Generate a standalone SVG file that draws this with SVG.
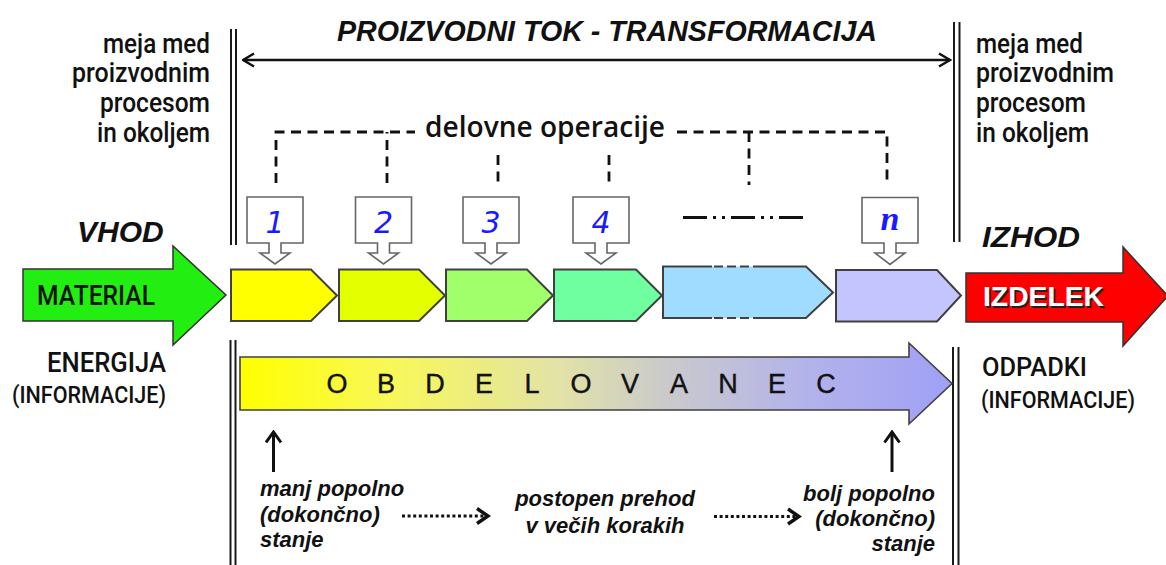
<svg xmlns="http://www.w3.org/2000/svg" width="1166" height="565" viewBox="0 0 1166 565">
  <defs>
    <style>
      .side { font-family: Roboto, "Liberation Sans", sans-serif; font-weight: 500; font-size: 27px; fill: #111; }
      .head { font-family: "Liberation Sans", Arial, sans-serif; font-weight: bold; font-style: italic; fill: #111; }
      .io { font-family: Roboto, "Liberation Sans", sans-serif; font-weight: 500; fill: #111; }
      .note { font-family: "Liberation Sans", Arial, sans-serif; font-weight: bold; font-style: italic; font-size: 22px; fill: #111; }
      .num { font-family: "DejaVu Sans", sans-serif; font-style: italic; font-size: 30px; fill: #1a1aff; text-anchor: middle; }
      .wall { stroke: #1a1a1a; stroke-width: 2; fill: none; }
      .step { stroke: #404040; stroke-width: 2; stroke-linejoin: miter; }
      .callout { fill: #fff; stroke: #666; stroke-width: 1.6; }
      .bracket { fill: none; stroke: #111; stroke-width: 2.8; stroke-dasharray: 10 6.5; }
      .dots { fill: none; stroke: #111; stroke-width: 3; stroke-dasharray: 3 2.6; }
    </style>
    <marker id="chev" viewBox="0 0 14 16" refX="12.5" refY="8" markerWidth="14" markerHeight="16" markerUnits="userSpaceOnUse" orient="auto-start-reverse">
      <path d="M1.5,1.5 L12.5,8 L1.5,14.5" fill="none" stroke="#111" stroke-width="2.5"/>
    </marker>
    <marker id="chevSmall" viewBox="0 0 14 18" refX="12" refY="9" markerWidth="14" markerHeight="18" markerUnits="userSpaceOnUse" orient="auto">
      <path d="M1.5,1.5 L12,9 L1.5,16.5" fill="none" stroke="#111" stroke-width="3"/>
    </marker>
    <linearGradient id="workpiece" x1="240" y1="0" x2="952" y2="0" gradientUnits="userSpaceOnUse">
      <stop offset="0" stop-color="#ffff00"/>
      <stop offset="0.22" stop-color="#f7f75c"/>
      <stop offset="0.45" stop-color="#e2e2a8"/>
      <stop offset="0.6" stop-color="#cacacc"/>
      <stop offset="0.8" stop-color="#b2b2ec"/>
      <stop offset="1" stop-color="#a0a0f6"/>
    </linearGradient>
  </defs>

  <rect width="1166" height="565" fill="#fff"/>

  <!-- system boundary walls -->
  <g id="boundaries">
    <line class="wall" x1="231" y1="29" x2="231" y2="245"/>
    <line class="wall" x1="236" y1="29" x2="236" y2="245"/>
    <line class="wall" x1="230.5" y1="340" x2="230.5" y2="565"/>
    <line class="wall" x1="235.5" y1="340" x2="235.5" y2="565"/>
    <line class="wall" x1="954" y1="22" x2="954" y2="242"/>
    <line class="wall" x1="959.5" y1="22" x2="959.5" y2="242"/>
    <line class="wall" x1="953" y1="347" x2="953" y2="565"/>
    <line class="wall" x1="958.5" y1="347" x2="958.5" y2="565"/>
  </g>

  <!-- headings and boundary labels -->
  <g id="title">
    <text class="head" x="337" y="41" font-size="29" textLength="540" lengthAdjust="spacingAndGlyphs">PROIZVODNI TOK - TRANSFORMACIJA</text>
  </g>
  <g id="boundary-left">
    <text class="side" x="210" y="53" text-anchor="end" textLength="107" lengthAdjust="spacingAndGlyphs">meja med</text>
    <text class="side" x="210" y="82" text-anchor="end" textLength="138" lengthAdjust="spacingAndGlyphs">proizvodnim</text>
    <text class="side" x="210" y="112" text-anchor="end" textLength="110" lengthAdjust="spacingAndGlyphs">procesom</text>
    <text class="side" x="210" y="141.5" text-anchor="end" textLength="113" lengthAdjust="spacingAndGlyphs">in okoljem</text>
  </g>
  <g id="boundary-right">
    <text class="side" x="976" y="53" textLength="107" lengthAdjust="spacingAndGlyphs">meja med</text>
    <text class="side" x="976" y="82" textLength="138" lengthAdjust="spacingAndGlyphs">proizvodnim</text>
    <text class="side" x="976" y="112" textLength="110" lengthAdjust="spacingAndGlyphs">procesom</text>
    <text class="side" x="976" y="141.5" textLength="113" lengthAdjust="spacingAndGlyphs">in okoljem</text>
  </g>
  <g id="operations-label">
    <text x="425" y="137" font-family="'Open Sans', 'DejaVu Sans', sans-serif" font-weight="600" font-size="29" fill="#111" textLength="240" lengthAdjust="spacingAndGlyphs">delovne operacije</text>
  </g>

  <!-- connectors -->
  <g id="connectors">
    <!-- production flow span -->
    <line x1="243" y1="60" x2="950" y2="60" stroke="#111" stroke-width="2.5" marker-start="url(#chev)" marker-end="url(#chev)"/>
    <!-- operation bracket -->
    <path class="bracket" d="M276,183 V132 H415"/>
    <path class="bracket" d="M387,183 V132"/>
    <path class="bracket" d="M677,132 H887 V185"/>
    <path class="bracket" d="M749,132 V185"/>
    <path class="bracket" d="M498,155 V184"/>
    <path class="bracket" d="M609,155 V184"/>
    <!-- further operations -->
    <path d="M683,217.5 H808" fill="none" stroke="#111" stroke-width="3" stroke-dasharray="24 6 3 6 3 6"/>
    <!-- state markers -->
    <line x1="273.5" y1="472" x2="273.5" y2="432" stroke="#111" stroke-width="3" marker-end="url(#chevSmall)"/>
    <line x1="892" y1="472" x2="892" y2="432" stroke="#111" stroke-width="3" marker-end="url(#chevSmall)"/>
    <!-- gradual transition -->
    <line class="dots" x1="402" y1="516" x2="486" y2="516"/>
    <path d="M477,508.5 L488,516 L477,523.5" fill="none" stroke="#111" stroke-width="3.4"/>
    <line class="dots" x1="714" y1="516.5" x2="796" y2="516.5"/>
    <path d="M788,509 L799,516.5 L788,524" fill="none" stroke="#111" stroke-width="3.4"/>
  </g>

  <!-- input -->
  <g id="input">
    <text class="head" x="77" y="242" font-size="30">VHOD</text>
    <polygon points="23,269 173,269 173,246 226,295 173,345 173,321 23,321" fill="#22ee11" stroke="#333" stroke-width="1.5"/>
    <text class="io" x="37" y="305" font-size="27" textLength="118" lengthAdjust="spacingAndGlyphs">MATERIAL</text>
    <text class="io" x="166" y="371.5" font-size="27" text-anchor="end" textLength="119" lengthAdjust="spacingAndGlyphs">ENERGIJA</text>
    <text class="io" x="166" y="403" font-size="24.5" text-anchor="end" textLength="154" lengthAdjust="spacingAndGlyphs">(INFORMACIJE)</text>
  </g>

  <!-- operation steps -->
  <g id="step1">
    <polygon class="step" points="231,269.5 311,269.5 337,295.5 311,321 231,321" fill="#ffff00"/>
  </g>
  <g id="step2">
    <polygon class="step" points="339,269.5 419,269.5 445,295.5 419,321 339,321" fill="#e4ff00"/>
  </g>
  <g id="step3">
    <polygon class="step" points="446,269.5 527,269.5 553,295.5 527,321 446,321" fill="#a2ff6c"/>
  </g>
  <g id="step4">
    <polygon class="step" points="554,269.5 636,269.5 662,295.5 636,321 554,321" fill="#70ffa0"/>
  </g>
  <g id="step-more">
    <polygon points="663,266.5 806,266.5 833,292.5 806,318 663,318" fill="#a0dcff"/>
    <path class="step" fill="none" d="M712,266.5 H663 V318 H712 M758,318 H806 L833,292.5 L806,266.5 H758"/>
    <path fill="none" stroke="#404040" stroke-width="2" stroke-dasharray="9 4" d="M714,266.5 H758 M714,318 H758"/>
  </g>
  <g id="stepN">
    <polygon class="step" points="836,270 937,270 961,295.5 937,321.5 836,321.5" fill="#c4c4ff"/>
  </g>

  <!-- operation callouts -->
  <g id="op1" transform="translate(275,0)">
    <path class="callout" d="M-28,197 H28 V243 H6 V253 H15 L0,264 L-15,253 H-6 V243 H-28 Z"/>
    <text class="num" x="0" y="233">1</text>
  </g>
  <g id="op2" transform="translate(383.5,0)">
    <path class="callout" d="M-28,197 H28 V243 H6 V253 H15 L0,264 L-15,253 H-6 V243 H-28 Z"/>
    <text class="num" x="0" y="233">2</text>
  </g>
  <g id="op3" transform="translate(491,0)">
    <path class="callout" d="M-28,197 H28 V243 H6 V253 H15 L0,264 L-15,253 H-6 V243 H-28 Z"/>
    <text class="num" x="0" y="233">3</text>
  </g>
  <g id="op4" transform="translate(601,0)">
    <path class="callout" d="M-28,197 H28 V243 H6 V253 H15 L0,264 L-15,253 H-6 V243 H-28 Z"/>
    <text class="num" x="0" y="233">4</text>
  </g>
  <g id="opN" transform="translate(890,0)">
    <path class="callout" d="M-28,197.5 H28 V243 H6 V253 H15 L0,264.5 L-15,253 H-6 V243 H-28 Z"/>
    <text x="0" y="230" font-family="'Liberation Serif', 'Times New Roman', serif" font-weight="bold" font-style="italic" font-size="34" fill="#1a1aff" text-anchor="middle">n</text>
  </g>

  <!-- output -->
  <g id="output">
    <text class="head" x="982" y="247" font-size="30" textLength="98" lengthAdjust="spacingAndGlyphs">IZHOD</text>
    <polygon points="966,273 1123,273 1123,247 1168,296 1123,346 1123,322 966,322" fill="#ff0000" stroke="#333" stroke-width="1.5"/>
    <text x="984.5" y="307.5" font-family="'Liberation Sans', Arial, sans-serif" font-weight="bold" font-size="28" fill="#222" textLength="121" lengthAdjust="spacingAndGlyphs">IZDELEK</text>
    <text x="983" y="306" font-family="'Liberation Sans', Arial, sans-serif" font-weight="bold" font-size="28" fill="#fff" textLength="121" lengthAdjust="spacingAndGlyphs">IZDELEK</text>
    <text class="io" x="982" y="375.5" font-size="26" textLength="105" lengthAdjust="spacingAndGlyphs">ODPADKI</text>
    <text class="io" x="981" y="408" font-size="24.5" textLength="154" lengthAdjust="spacingAndGlyphs">(INFORMACIJE)</text>
  </g>

  <!-- workpiece -->
  <g id="workpiece-arrow">
    <polygon points="240,357 909,357 909,343 952,383.5 909,424 909,410 240,410" fill="url(#workpiece)" stroke="#404040" stroke-width="1.6"/>
    <text x="337 386 435 484 532 581 630 679 728 777 826" y="393" font-family="'Liberation Sans', Arial, sans-serif" font-size="27" fill="#111" stroke="#111" stroke-width="0.4" text-anchor="middle">OBDELOVANEC</text>
  </g>

  <!-- state notes -->
  <g id="state-start">
    <text class="note" x="260" y="496">manj popolno</text>
    <text class="note" x="260" y="521.5">(dokončno)</text>
    <text class="note" x="260" y="547">stanje</text>
  </g>
  <g id="state-transition">
    <text class="note" x="605" y="506" text-anchor="middle">postopen prehod</text>
    <text class="note" x="605" y="533" text-anchor="middle">v večih korakih</text>
  </g>
  <g id="state-end">
    <text class="note" x="935" y="500.5" text-anchor="end">bolj popolno</text>
    <text class="note" x="935" y="525.5" text-anchor="end">(dokončno)</text>
    <text class="note" x="935" y="550.5" text-anchor="end">stanje</text>
  </g>
</svg>
